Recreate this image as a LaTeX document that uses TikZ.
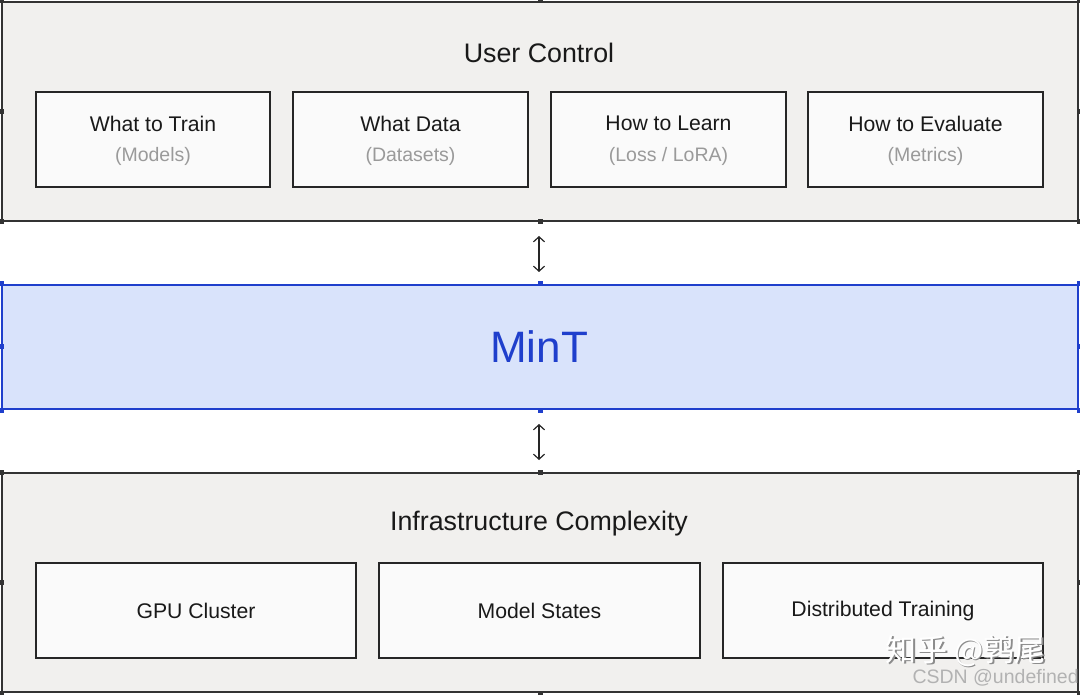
\documentclass[tikz,border=0pt]{standalone}
\usepackage{fontspec}
\setmainfont{Liberation Sans}
\newfontfamily\cjkfont{Noto Sans CJK SC}
\usetikzlibrary{arrows.meta}
\definecolor{panelgray}{HTML}{F1F0EE}
\definecolor{boxfill}{HTML}{FAFAFA}
\definecolor{edgegray}{HTML}{333333}
\definecolor{mintblue}{HTML}{1F3FCC}
\definecolor{mintfill}{HTML}{D9E3FB}
\definecolor{subgray}{HTML}{9A9A9A}
\tikzset{
  panel/.style={draw=edgegray, fill=panelgray, line width=2pt, minimum width=1076pt, minimum height=219pt, inner sep=0pt},
  mintbox/.style={draw=mintblue, fill=mintfill, line width=2pt, minimum width=1076pt, minimum height=124pt, inner sep=0pt},
  itembox/.style={draw=black!85, fill=boxfill, line width=1.3pt, minimum height=95pt, inner sep=0pt},
  handle/.style={fill=#1, minimum size=5pt, inner sep=0pt},
  handle/.default=edgegray,
  ttl/.style={font=\fontsize{26.8}{30}\selectfont, text=black!90},
  itemtxt/.style={font=\fontsize{21.2}{24}\selectfont, text=black!90},
  subtxt/.style={font=\fontsize{19.5}{22}\selectfont, text=subgray},
  biarrow/.style={{Straight Barb[length=5pt,width=11pt]}-{Straight Barb[length=5pt,width=11pt]}, line width=1.2pt, black!85},
}
\begin{document}
\begin{tikzpicture}[x=1pt,y=-1pt]
\useasboundingbox (0,0) rectangle (1080,695);
\fill[white] (0,0) rectangle (1080,695);
% top panel
\node[panel] (top) at (540,111.5) {};
\node[ttl] (toptitle) at (539,52.5) {User Control};
\foreach \n/\xa/\xb/\ta/\tb in {tr/36/270/What to Train/(Models), wd/293/528/What Data/(Datasets), hl/551/786/How to Learn/{(Loss / LoRA)}, he/808/1043/How to Evaluate/(Metrics)}{
  \node[itembox, minimum width={\xb-\xa}] (\n) at ({(\xa+\xb)/2},139.5) {};
  \node[itemtxt] (\n-a) at ({(\xa+\xb)/2},123.5) {\ta};
  \node[subtxt] (\n-b) at ({(\xa+\xb)/2},156.5) {\tb};
}
% MinT
\node[mintbox] (mint) at (540,347) {};
\node[font=\fontsize{44}{50}\selectfont, text=mintblue] (minttxt) at (539,347) {MinT};
% bottom panel
\node[panel] (bot) at (540,582.5) {};
\node[ttl] (bottitle) at (539,523.5) {Infrastructure Complexity};
\foreach \n/\xa/\xb/\ta in {gpu/36/356/GPU Cluster, ms/379/700/Model States, dt/723/1043/Distributed Training}{
  \node[itembox, minimum width={\xb-\xa}] (\n) at ({(\xa+\xb)/2},610.5) {};
  \node[itemtxt] (\n-a) at ({(\xa+\xb)/2},611) {\ta};
}
% handles
\foreach \b in {top,bot}{
  \foreach \a in {north west,north,north east,west,east,south west,south,south east}{
    \node[handle] at (\b.\a) {};
  }
}
\foreach \a in {north west,north,north east,west,east,south west,south,south east}{
  \node[handle=mintblue] at (mint.\a) {};
}
% arrows
\coordinate (a1s) at (539,236);
\coordinate (a1e) at (539,272);
\coordinate (a2s) at (539,424);
\coordinate (a2e) at (539,460);
\draw[biarrow] (a1s) -- (a1e);
\draw[biarrow] (a2s) -- (a2e);
% watermark
\node[font=\cjkfont\fontsize{31}{34}\selectfont, text=black!45, anchor=west] (wm1s) at (883.5,652.5) {知乎 @鹑尾};
\node[font=\cjkfont\fontsize{31}{34}\selectfont, text=white, anchor=west] (wm1) at (882,651) {知乎 @鹑尾};
\node[font=\fontsize{19.5}{22}\selectfont, text=black!30, anchor=west] (wm2) at (909,678) {CSDN @undefined};
\end{tikzpicture}
\end{document}
